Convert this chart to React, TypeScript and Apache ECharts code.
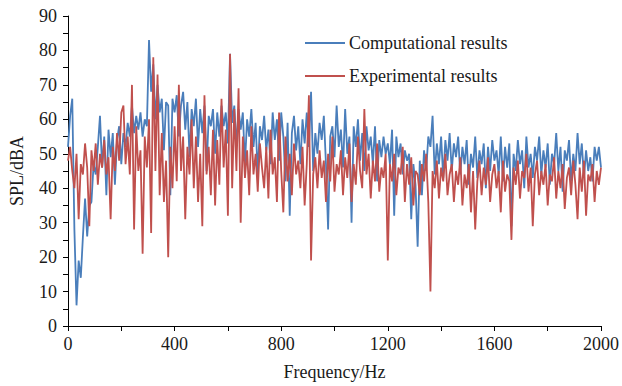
import React, { useEffect, useRef } from "react";
import * as echarts from "echarts";

const FREQ_STEP = 8;

const computational = [
  52, 61, 66, 28, 6, 19, 14, 26, 37, 26,
  35, 36, 47, 44, 52, 61, 46, 55, 38, 57,
  49, 56, 41, 54, 58, 47, 56, 52, 59, 55,
  64, 56, 61, 57, 62, 55, 60, 58, 83, 68,
  76, 60, 70, 62, 66, 51, 65, 64, 38, 66,
  62, 67, 55, 64, 68, 57, 65, 49, 63, 58,
  66, 52, 63, 56, 64, 45, 61, 58, 63, 50,
  62, 55, 64, 58, 62, 53, 79, 59, 64, 52,
  63, 57, 62, 47, 60, 55, 63, 52, 59, 44,
  58, 54, 61, 51, 57, 47, 62, 54, 60, 48,
  62, 55, 42, 59, 32, 56, 61, 51, 58, 47,
  60, 53, 62, 52, 68, 45, 56, 50, 59, 54,
  61, 47, 28, 55, 58, 49, 64, 52, 57, 46,
  63, 50, 55, 30, 58, 52, 60, 48, 56, 45,
  58, 51, 55, 47, 58, 42, 54, 49, 55, 50,
  53, 47, 57, 32, 55, 49, 53, 44, 51, 48,
  50, 31, 47, 41, 23, 48, 38, 51, 45, 55,
  52, 61, 44, 53, 47, 55, 43, 54, 48, 56,
  45, 53, 49, 55, 44, 52, 47, 54, 41, 50,
  46, 55, 43, 51, 47, 53, 40, 52, 45, 54,
  48, 51, 44, 55, 42, 52, 46, 53, 29, 50,
  45, 54, 47, 51, 40, 55, 46, 50, 43, 52,
  48, 55, 44, 51, 46, 53, 41, 50, 47, 56,
  45, 52, 39, 51, 48, 54, 42, 50, 45, 56,
  47, 53, 43, 51, 45, 49, 42, 52, 48, 52, 46,
];

const experimental = [
  48, 52, 45, 40, 50, 31, 47, 44, 53, 46,
  29, 51, 45, 53, 41, 50, 46, 54, 44, 49,
  31, 52, 45, 56, 48, 62, 64, 47, 55, 44,
  70, 28, 58, 45, 51, 21, 55, 46, 60, 27,
  78, 45, 73, 38, 56, 36, 48, 20, 52, 40,
  58, 42, 70, 45, 55, 31, 52, 44, 60, 40,
  55, 36, 50, 29, 67, 44, 52, 38, 57, 35,
  54, 41, 66, 46, 57, 32, 79, 40, 63, 45,
  69, 30, 55, 43, 51, 38, 58, 44, 50, 39,
  53, 46, 40, 52, 37, 57, 44, 49, 36, 62,
  45, 33, 55, 42, 50, 38, 53, 44, 48, 40,
  52, 35, 47, 67, 19, 44, 49, 40, 51, 43,
  48, 36, 50, 42, 55, 39, 47, 44, 51, 38,
  49, 43, 53, 36, 47, 41, 55, 45, 40, 63,
  44, 50, 37, 48, 42, 53, 39, 46, 43, 50,
  19, 47, 42, 50, 38, 46, 44, 52, 36, 47,
  41, 49, 35, 45, 44, 38, 47, 42, 50, 36,
  10, 45, 40, 48, 37, 46, 42, 50, 38, 44,
  47, 36, 45, 41, 49, 35, 44, 40, 47, 33,
  45, 28, 42, 48, 38, 46, 41, 49, 36, 44,
  47, 40, 45, 33, 48, 39, 44, 42, 25, 46,
  41, 48, 37, 45, 43, 50, 39, 46, 29, 44,
  48, 38, 45, 41, 47, 35, 44, 42, 49, 37,
  45, 40, 47, 34, 43, 46, 38, 48, 41, 31,
  46, 39, 48, 32, 44, 42, 47, 36, 45, 41, 46,
];

const seriesNames = ["Computational results", "Experimental results"];

const toPairs = (vals: number[]) => vals.map((v, i) => [i * FREQ_STEP, v]);

const FONT = "'Liberation Serif', 'Times New Roman', serif";

export default function App() {
  const ref = useRef<HTMLDivElement>(null);
  useEffect(() => {
    if (!ref.current) return;
    const chart = echarts.init(ref.current, undefined, { renderer: "svg" });
    chart.setOption({
      animation: false,
      backgroundColor: "#ffffff",
      grid: { left: 62, right: 21, top: 16, bottom: 56, containLabel: false },
      legend: {
        orient: "vertical",
        left: 300,
        top: 29,
        padding: 5,
        icon: "rect",
        itemWidth: 40,
        itemHeight: 2,
        itemGap: 15,
        textStyle: { fontFamily: FONT, fontSize: 18, color: "#1a1a1a", padding: [0, 0, 0, -1] },
        data: seriesNames,
      },
      xAxis: {
        type: "value",
        min: 0,
        max: 2000,
        interval: 200,
        name: "Frequency/Hz",
        nameLocation: "middle",
        nameGap: 37,
        nameTextStyle: { fontFamily: FONT, fontSize: 18, color: "#1a1a1a" },
        axisLine: { show: true, lineStyle: { color: "#000", width: 1 } },
        axisTick: { show: true, length: 5, lineStyle: { color: "#000" } },
        splitLine: { show: false },
        axisLabel: {
          fontFamily: FONT,
          fontSize: 18,
          color: "#1a1a1a",
          margin: 9,
          formatter: (v: number) => (v % 400 === 0 ? String(v) : ""),
        },
      },
      yAxis: {
        type: "value",
        min: 0,
        max: 90,
        interval: 10,
        name: "SPL/dBA",
        nameLocation: "middle",
        nameGap: 42,
        nameTextStyle: { fontFamily: FONT, fontSize: 18, color: "#1a1a1a" },
        axisLine: { show: true, lineStyle: { color: "#000", width: 1 } },
        axisTick: { show: true, length: 5, lineStyle: { color: "#000" } },
        minorTick: { show: true, splitNumber: 2, length: 5, lineStyle: { color: "#000" } },
        splitLine: { show: false },
        axisLabel: { fontFamily: FONT, fontSize: 18, color: "#1a1a1a", margin: 11 },
      },
      series: [
        {
          name: seriesNames[0],
          type: "line",
          data: toPairs(computational),
          symbol: "none",
          lineStyle: { color: "#4a7ebb", width: 1.8 },
          itemStyle: { color: "#4a7ebb" },
        },
        {
          name: seriesNames[1],
          type: "line",
          data: toPairs(experimental),
          symbol: "none",
          lineStyle: { color: "#c0504d", width: 1.8 },
          itemStyle: { color: "#c0504d" },
        },
      ],
    });
    return () => chart.dispose();
  }, []);
  return (
    <div
      ref={ref}
      style={{ position: "fixed", left: 0, top: 0, width: 622, height: 386 }}
    />
  );
}
